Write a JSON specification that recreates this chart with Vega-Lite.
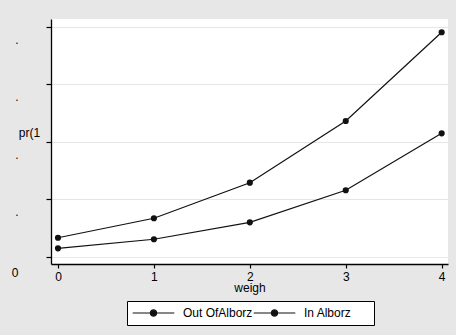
{
  "$schema": "https://vega.github.io/schema/vega-lite/v6.json",
  "autosize": "none",
  "width": 397,
  "height": 245,
  "padding": {"left": 51, "top": 19, "right": 8, "bottom": 71},
  "background": "#e7e7e7",
  "config": {
    "view": {"fill": "white", "stroke": null},
    "font": "Liberation Sans",
    "axis": {"labelFont": "Liberation Sans", "titleFont": "Liberation Sans", "labelFontSize": 12, "titleFontSize": 12, "titleFontWeight": "normal", "labelColor": "black", "titleColor": "black", "domainColor": "black", "tickColor": "black", "domainWidth": 1.3, "tickWidth": 1.2}
  },
  "data": {
    "values": [
      {"w": 0, "g": "Out OfAlborz", "p": 0.0330},
      {"w": 1, "g": "Out OfAlborz", "p": 0.0668},
      {"w": 2, "g": "Out OfAlborz", "p": 0.1287},
      {"w": 3, "g": "Out OfAlborz", "p": 0.2360},
      {"w": 4, "g": "Out OfAlborz", "p": 0.3903},
      {"w": 0, "g": "In Alborz", "p": 0.0146},
      {"w": 1, "g": "In Alborz", "p": 0.0303},
      {"w": 2, "g": "In Alborz", "p": 0.0598},
      {"w": 3, "g": "In Alborz", "p": 0.1155},
      {"w": 4, "g": "In Alborz", "p": 0.2146}
    ]
  },
  "mark": {"type": "line", "strokeWidth": 1.2, "point": {"filled": true, "size": 38, "opacity": 1}},
  "encoding": {
    "x": {
      "field": "w", "type": "quantitative",
      "scale": {"domain": [-0.0729, 4.066], "nice": false, "zero": false},
      "axis": {"values": [0, 1, 2, 3, 4], "format": "d", "grid": false, "tickSize": 4, "labelPadding": 3, "title": "weigh", "titlePadding": 0}
    },
    "y": {
      "field": "p", "type": "quantitative",
      "scale": {"domain": [-0.0127, 0.4134], "nice": false, "zero": false},
      "axis": {
        "values": [0, 0.1, 0.2, 0.3, 0.4],
        "labelExpr": "datum.value == 0 ? '0' : '.'",
        "labelOffset": 16.3,
        "labelBaseline": {"condition": {"test": "datum.value == 0", "value": "middle"}, "value": "alphabetic"},
        "labelPadding": 28,
        "tickSize": 5,
        "grid": true, "gridColor": "#e6e6e6", "gridWidth": 1,
        "title": "pr(1", "titleAngle": 0, "titleX": -22, "titleY": 113, "titleAlign": "center", "titleBaseline": "middle"
      }
    },
    "color": {
      "field": "g", "type": "nominal",
      "scale": {"domain": ["Out OfAlborz", "In Alborz"], "range": ["#111111", "#111111"]},
      "legend": {
        "title": null,
        "orient": "none",
        "legendX": 76,
        "legendY": 282,
        "direction": "horizontal",
        "columns": 2,
        "fillColor": "white",
        "strokeColor": "black",
        "padding": 5,
        "clipHeight": 14,
        "columnPadding": 0,
        "symbolType": "M-1,0L1,0M-0.15,0A0.15,0.15,0,1,1,0.15,0A0.15,0.15,0,1,1,-0.15,0Z",
        "symbolSize": 1730,
        "symbolStrokeWidth": 1.2,
        "symbolFillColor": "#111111",
        "symbolStrokeColor": "#111111",
        "labelFontSize": 12,
        "labelFont": "Liberation Sans",
        "labelColor": "black",
        "labelOffset": 8,
        "labelExpr": "datum.label == 'In Alborz' ? 'In Alborz     \u200b' : datum.label"
      }
    }
  }
}
